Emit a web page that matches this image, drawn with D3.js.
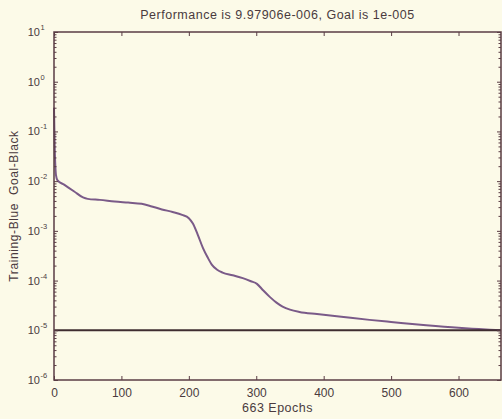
<!DOCTYPE html>
<html>
<head>
<meta charset="utf-8">
<script src="https://cdn.jsdelivr.net/npm/d3@7"></script>
<style>
html,body{margin:0;padding:0;background:#fcfae8;}
svg{display:block;}
text{font-family:"Liberation Sans",Arial,sans-serif;fill:#4a3a3e;}
</style>
</head>
<body>
<svg id="chart" width="502" height="419"></svg>
<script>
const epochs = [0, 1, 2, 3, 5, 15, 30, 43, 50, 68, 90, 110, 130, 145, 160, 176, 190, 200, 206, 213, 221, 228, 234, 242, 250, 265, 280, 292, 301, 310, 320, 330, 339, 350, 364, 390, 413, 440, 468, 500, 552, 600, 630, 663];
const performance = [0.3, 0.05, 0.02, 0.013, 0.0105, 0.0085, 0.0062, 0.0047, 0.0044, 0.0042, 0.0039, 0.0037, 0.0035, 0.0031, 0.0027, 0.0024, 0.0021, 0.0018, 0.0014, 0.00085, 0.00045, 0.00029, 0.00021, 0.000165, 0.000145, 0.000128, 0.000112, 0.000097, 0.000086, 0.000064, 0.000047, 0.000036, 0.00003, 0.000026, 0.0000234, 0.0000212, 0.0000196, 0.0000178, 0.0000162, 0.0000147, 0.0000126, 0.0000112, 0.0000106, 9.97906e-6];
const goal = 1e-5;
const xTicks = [0, 100, 200, 300, 400, 500, 600];
const yExponents = [1, 0, -1, -2, -3, -4, -5, -6];
const titleText = "Performance is 9.97906e-006, Goal is 1e-005";
const xLabelText = "663 Epochs";
const yLabelText = "Training-Blue\u00a0\u00a0Goal-Black";

const svg = d3.select("#chart");
const L = 54, R = 501, T = 32, B = 380;
const x = d3.scaleLinear().domain([0, 663]).range([L, R]);
const y = d3.scaleLog().domain([1e-6, 10]).range([B, T]);
const axisColor = "#5a3c44";

const minor = [];
for (let e = -6; e < 1; e++) for (let m = 2; m <= 9; m++) minor.push(m * Math.pow(10, e));

const g = svg.append("g");
g.append("path")
  .datum(epochs.map((e, i) => [e, performance[i]]))
  .attr("fill", "none").attr("stroke", "#7a5a88").attr("stroke-width", 2)
  .attr("d", d3.line().curve(d3.curveMonotoneX).x(d => x(d[0])).y(d => y(d[1])));
g.append("line").attr("x1", x(0)).attr("x2", x(663)).attr("y1", y(goal)).attr("y2", y(goal))
  .attr("stroke", "#3f2c30").attr("stroke-width", 2);

const xb = d3.axisBottom(x).tickValues(xTicks).tickSize(-4).tickPadding(8).tickFormat(d3.format("d"));
svg.append("g").attr("transform", `translate(0,${B})`).call(xb)
  .call(s => { s.select(".domain").remove(); s.selectAll("line").attr("stroke", axisColor);
    s.selectAll("text").attr("font-size", 12).style("fill", "#4a3a3e"); });
svg.append("g").attr("transform", `translate(0,${T})`).call(d3.axisTop(x).tickValues(xTicks).tickSize(-4).tickFormat(""))
  .call(s => { s.select(".domain").remove(); s.selectAll("line").attr("stroke", axisColor); });
svg.append("g").attr("transform", `translate(${L},0)`).call(d3.axisLeft(y).tickValues(yExponents.map(e => Math.pow(10, e))).tickSize(-4).tickFormat(""))
  .call(s => { s.select(".domain").remove(); s.selectAll("line").attr("stroke", axisColor); });
svg.append("g").attr("transform", `translate(${R},0)`).call(d3.axisRight(y).tickValues(yExponents.map(e => Math.pow(10, e))).tickSize(-4).tickFormat(""))
  .call(s => { s.select(".domain").remove(); s.selectAll("line").attr("stroke", axisColor); });
svg.append("g").attr("transform", `translate(${L},0)`).call(d3.axisLeft(y).tickValues(minor).tickSize(-2.5).tickFormat(""))
  .call(s => { s.select(".domain").remove(); s.selectAll("line").attr("stroke", axisColor); });
svg.append("g").attr("transform", `translate(${R},0)`).call(d3.axisRight(y).tickValues(minor).tickSize(-2.5).tickFormat(""))
  .call(s => { s.select(".domain").remove(); s.selectAll("line").attr("stroke", axisColor); });

const yl = svg.append("g");
yExponents.forEach(e => {
  yl.append("text").attr("x", 40).attr("y", y(Math.pow(10, e)) + 4).attr("text-anchor", "end").attr("font-size", 11).text("10");
  yl.append("text").attr("x", 40.5).attr("y", y(Math.pow(10, e)) - 2).attr("font-size", 7.5).text(String(e));
});

svg.append("rect").attr("x", L).attr("y", T).attr("width", R - L).attr("height", B - T)
  .attr("fill", "none").attr("stroke", axisColor).attr("stroke-width", 1.5);

svg.append("text").attr("x", (L + R) / 2).attr("y", 19).attr("text-anchor", "middle").attr("font-size", 12.5)
  .attr("letter-spacing", 0.5).text(titleText);
svg.append("text").attr("x", (L + R) / 2).attr("y", 412).attr("text-anchor", "middle").attr("font-size", 12.5)
  .attr("letter-spacing", 0.5).text(xLabelText);
svg.append("text").attr("transform", `translate(18,${(T + B) / 2}) rotate(-90)`).attr("text-anchor", "middle").attr("font-size", 12)
  .attr("letter-spacing", 0.6).text(yLabelText);
</script>
</body>
</html>
